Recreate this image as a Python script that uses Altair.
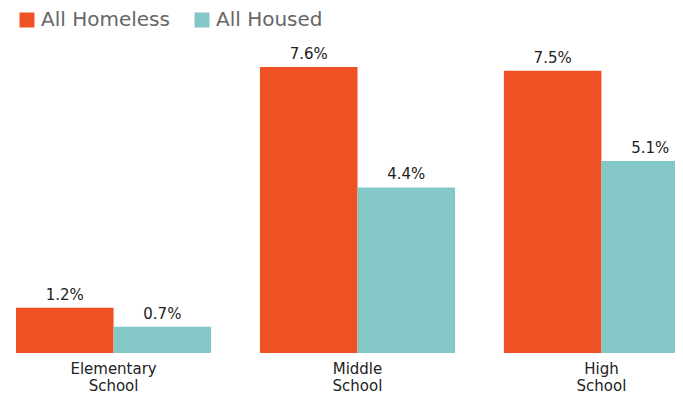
import altair as alt
import pandas as pd

categories = ["Elementary School", "Middle School", "High School"]
series = ["All Homeless", "All Housed"]
homeless = [1.2, 7.6, 7.5]
housed = [0.7, 4.4, 5.1]
colors = ["#F05124", "#83C7C7"]

rows = []
for c, a, b in zip(categories, homeless, housed):
    rows.append({"level": c, "group": series[0], "value": a})
    rows.append({"level": c, "group": series[1], "value": b})
df = pd.DataFrame(rows)
df["label"] = df["value"].map(lambda v: f"{v:.1f}%")

FONT = "DejaVu Sans"

x = alt.X(
    "level:N",
    sort=categories,
    scale=alt.Scale(range=[0, 683], paddingInner=0.2, paddingOuter=0),
    axis=alt.Axis(
        title=None,
        domain=False,
        ticks=False,
        labelAngle=0,
        labelExpr="split(datum.label, ' ')",
        labelFont=FONT,
        labelFontSize=15,
        labelColor="#222222",
        labelPadding=8,
        labelLineHeight=17,
        labelBaseline="top",
    ),
)
xo = alt.XOffset("group:N", sort=series, scale=alt.Scale(paddingInner=0, paddingOuter=0))
y = alt.Y("value:Q", scale=alt.Scale(domain=[0, 8], nice=False), axis=None)

bars = alt.Chart(df).mark_bar(clip=True).encode(
    x=x,
    xOffset=xo,
    y=y,
    color=alt.Color(
        "group:N",
        sort=series,
        scale=alt.Scale(domain=series, range=colors),
        legend=alt.Legend(
            title=None,
            orient="none",
            legendX=1,
            legendY=-42,
            direction="horizontal",
            symbolType="square",
            symbolSize=225,
            symbolStrokeWidth=0,
            labelFont=FONT,
            labelFontSize=20,
            labelColor="#666666",
            labelOffset=4,
            columnPadding=22,
        ),
    ),
)

text = alt.Chart(df).mark_text(
    font=FONT, fontSize=15, color="#222222", dy=-8, baseline="alphabetic", clip=False
).encode(
    x=x,
    xOffset=xo,
    y=y,
    text="label:N",
)

chart = (
    alt.layer(bars, text)
    .properties(
        width=659,
        height=301,
        padding={"left": 8, "top": 44, "right": 0, "bottom": 40},
        autosize=alt.AutoSizeParams(type="none"),
    )
    .configure_view(stroke=None)
)

chart.save("out.html", embed_options={"renderer": "svg", "actions": False})
